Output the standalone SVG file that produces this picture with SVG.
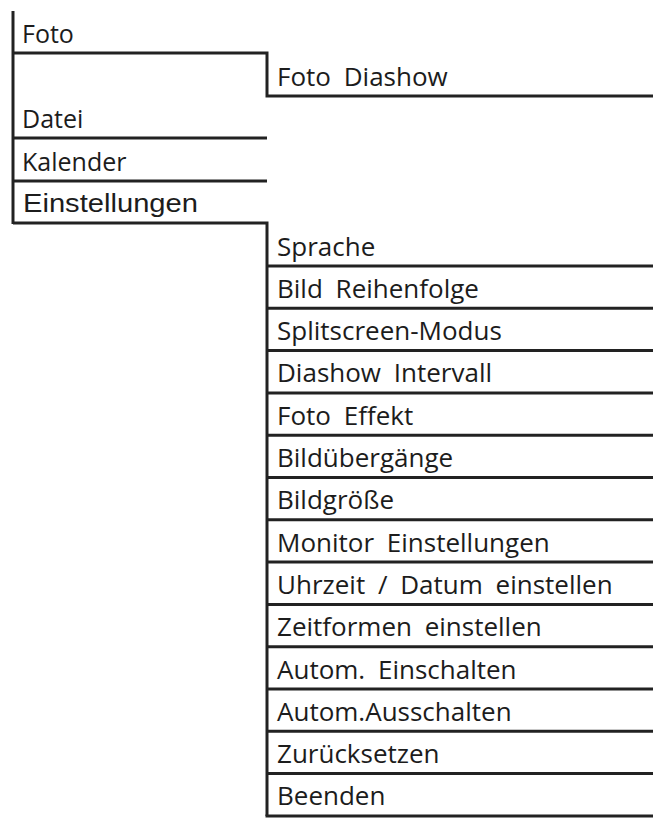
<svg xmlns="http://www.w3.org/2000/svg" width="657" height="820" viewBox="0 0 657 820">
<style>
  text { font-family: "Open Sans", "Noto Sans", "DejaVu Sans", sans-serif; font-size: 25px; fill: #1c1c1c; }
  .sub { font-size: 26px; word-spacing: 6px; }
  .arial { font-family: "Liberation Sans", Arial, sans-serif; font-size: 26px; }
  .ln { fill: none; stroke: #222; stroke-width: 3; stroke-linecap: butt; stroke-linejoin: miter; }
</style>
<rect width="657" height="820" fill="#ffffff"/>
<g id="connectors">
  <path class="ln" d="M13,11 V224"/>
  <path class="ln" d="M13,53 H267 V96 H653"/>
  <path class="ln" d="M13,138 H267"/>
  <path class="ln" d="M13,181 H267"/>
  <path class="ln" d="M13,223 H267 V816"/>
  <path class="ln" d="M267,266 H653"/>
  <path class="ln" d="M267,308.3 H653"/>
  <path class="ln" d="M267,350.6 H653"/>
  <path class="ln" d="M267,392.9 H653"/>
  <path class="ln" d="M267,435.2 H653"/>
  <path class="ln" d="M267,477.5 H653"/>
  <path class="ln" d="M267,519.8 H653"/>
  <path class="ln" d="M267,562.1 H653"/>
  <path class="ln" d="M267,604.4 H653"/>
  <path class="ln" d="M267,646.7 H653"/>
  <path class="ln" d="M267,689 H653"/>
  <path class="ln" d="M267,731.3 H653"/>
  <path class="ln" d="M267,773.6 H653"/>
  <path class="ln" d="M265.5,815.9 H653"/>
</g>
<g id="foto"><text x="22" y="42.5">Foto</text></g>
<g id="foto-diashow"><text class="sub" x="277" y="85.5">Foto Diashow</text></g>
<g id="datei"><text x="22" y="127.5">Datei</text></g>
<g id="kalender"><text x="22" y="170.5">Kalender</text></g>
<g id="einstellungen"><text class="arial" x="23" y="211.5" textLength="175" lengthAdjust="spacingAndGlyphs">Einstellungen</text></g>
<g id="sprache"><text class="sub" x="277" y="255.5">Sprache</text></g>
<g id="bild-reihenfolge"><text class="sub" x="277" y="297.8">Bild Reihenfolge</text></g>
<g id="splitscreen-modus"><text class="sub" x="277" y="340.1">Splitscreen-Modus</text></g>
<g id="diashow-intervall"><text class="sub" x="277" y="382.4">Diashow Intervall</text></g>
<g id="foto-effekt"><text class="sub" x="277" y="424.7">Foto Effekt</text></g>
<g id="bilduebergaenge"><text class="sub" x="277" y="467">Bildübergänge</text></g>
<g id="bildgroesse"><text class="sub" x="277" y="509.3">Bildgröße</text></g>
<g id="monitor-einstellungen"><text class="sub" x="277" y="551.6">Monitor Einstellungen</text></g>
<g id="uhrzeit-datum"><text class="sub" x="277" y="593.9">Uhrzeit / Datum einstellen</text></g>
<g id="zeitformen"><text class="sub" x="277" y="636.2">Zeitformen einstellen</text></g>
<g id="autom-einschalten"><text class="sub" x="277" y="678.5">Autom. Einschalten</text></g>
<g id="autom-ausschalten"><text class="sub" x="277" y="720.8">Autom.Ausschalten</text></g>
<g id="zuruecksetzen"><text class="sub" x="277" y="763.1">Zurücksetzen</text></g>
<g id="beenden"><text class="sub" x="277" y="805.4">Beenden</text></g>
</svg>
